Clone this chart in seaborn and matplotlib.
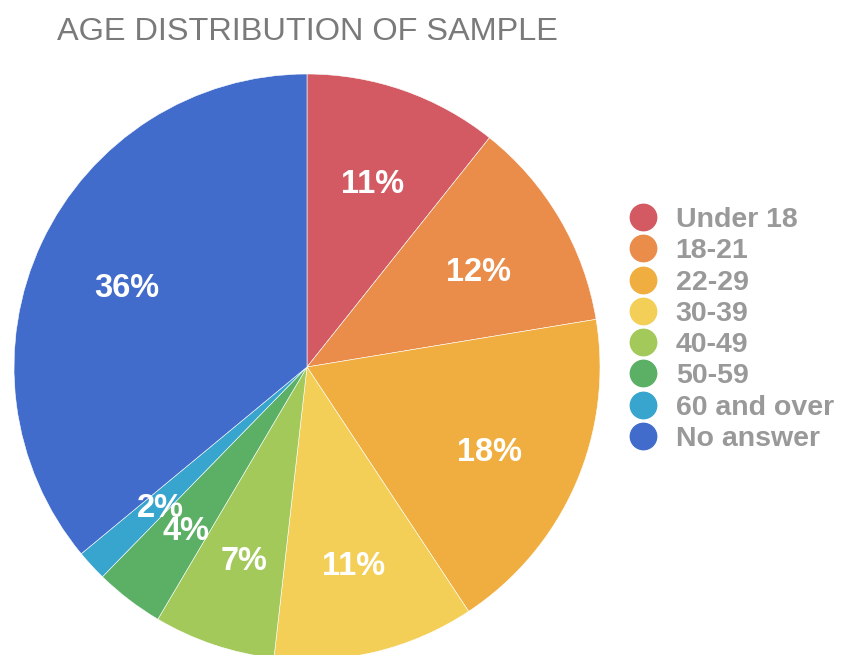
import matplotlib
matplotlib.use("Agg")
import matplotlib.pyplot as plt
from matplotlib.lines import Line2D
import matplotlib.transforms as mtransforms
import seaborn as sns

groups = ['Under 18', '18-21', '22-29', '30-39', '40-49', '50-59', '60 and over', 'No answer']
shares = [10.7, 11.7, 18.3, 11.1, 6.7, 3.8, 1.7, 36.0]
colors = ['#D35A63', '#EA8C4A', '#EFAE3F', '#F3CF58', '#A2C95A', '#5BB065', '#37A5CD', '#416CCB']

sns.set_theme(style="white")
plt.rcParams['font.family'] = ['Liberation Sans', 'DejaVu Sans']

W, H = 842, 655
fig = plt.figure(figsize=(W / 100, H / 100), dpi=100)

# pie centre (307, 367) px, radius 293 px
cx, cy, r = 307, 367, 293
ax = fig.add_axes([(cx - r) / W, (H - cy - r) / H, 2 * r / W, 2 * r / H])
wedges, texts, autotexts = ax.pie(
    shares, colors=colors, startangle=90, counterclock=False,
    autopct=lambda p: f"{round(p):d}%", pctdistance=0.68, radius=1,
    wedgeprops=dict(edgecolor='white', linewidth=0.4),
    textprops=dict(color='white', fontsize=23.5, fontweight='bold'))
ax.set_xlim(-1, 1)
ax.set_ylim(-1, 1)
ax.set_aspect('equal')
ax.axis('off')

# labels sit a little lower than the bbox centre
shift = mtransforms.ScaledTranslation(0, -6 / 100, fig.dpi_scale_trans)
for t in autotexts:
    t.set_transform(t.get_transform() + shift)

fig.text(57 / W, 1 - 40 / H, 'AGE DISTRIBUTION OF SAMPLE', fontsize=23.4,
         color='#7a7a7a', va='baseline', ha='left')

handles = [Line2D([], [], marker='o', linestyle='', markersize=19,
                  markerfacecolor=c, markeredgecolor=c) for c in colors]
leg = fig.legend(handles, groups, loc='upper left',
                 bbox_to_anchor=(629 / W, 1 - 207 / H), frameon=False,
                 borderpad=0, borderaxespad=0, handlelength=1.0,
                 handletextpad=0.64, labelspacing=0.185,
                 prop=dict(size=20.5, weight='bold'))
for t in leg.get_texts():
    t.set_color('#999999')

fig.savefig('out.png', dpi=100)
